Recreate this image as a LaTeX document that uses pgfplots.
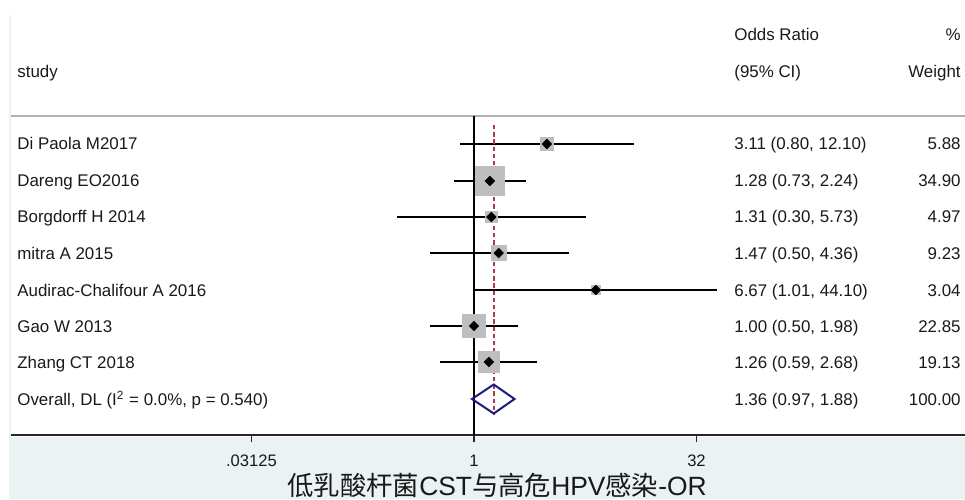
\documentclass[border=0pt]{standalone}
\usepackage{fontspec}
\setmainfont{Liberation Sans}
\newfontfamily\cjk{Noto Sans CJK SC}
\usepackage{pgfplots}
\pgfplotsset{compat=1.18}
\usepackage{pgfplotstable}
\definecolor{bgblue}{RGB}{234,242,243}
\definecolor{sqgray}{RGB}{190,190,190}
\definecolor{dianavy}{RGB}{28,28,128}
\definecolor{dashred}{RGB}{170,60,75}
\definecolor{txt}{RGB}{25,25,25}
% columns: odds ratio, lower, upper, weight, row position
\pgfplotstableread{
or lo hi w y
3.11 0.80 12.10 5.88 291
1.28 0.73 2.24 34.90 254
1.31 0.30 5.73 4.97 218
1.47 0.50 4.36 9.23 182
6.67 1.01 44.10 3.04 145
1.00 0.50 1.98 22.85 109
1.26 0.59 2.68 19.13 73
}\studies
\begin{document}
\begin{tikzpicture}
\useasboundingbox (-5.5pt,-32pt) rectangle (477pt,217.5pt);
\begin{scope}[x=0.5pt,y=-0.5pt,shift={(-5.5pt,217.5pt)}]
 \fill[bgblue] (9,437) rectangle (965,499);
 \fill[bgblue] (9,15) rectangle (11,437);
 \draw[black!30, line width=0.7pt] (11,116) -- (965,116);
\end{scope}
\begin{axis}[
 scale only axis, width=477pt, height=217.5pt,
 at={(0pt,0pt)}, anchor=south west,
 xmode=log, log basis x=2,
 xmin=0.0007378, xmax=2096.4, ymin=0, ymax=435,
 axis x line*=bottom, axis y line=none,
 x axis line style={-, line width=1pt, draw=black!85},
 xtick={0.03125,1,32}, xticklabels={.03125,1,32},
 xminorticks=false, ytick=\empty,
 tick align=outside, major tick length=3.5pt,
 xtick style={black!85, line width=0.6pt},
 xticklabel style={font=\fontsize{8.3}{10}\selectfont, text=txt, yshift=-3pt},
 /pgf/number format/assume math mode=true,
 clip=false,
]
% weight boxes
\addplot[only marks, mark=square*, color=sqgray,
 scatter, scatter/use mapped color={draw=sqgray,fill=sqgray},
 visualization depends on={\thisrow{w} \as \wt},
 scatter/@pre marker code/.append style={/tikz/mark size={(4.6*sqrt(\wt)+1.5)/4}}]
 table[x=or,y=y]{\studies};
% confidence intervals
\addplot[black, line width=1pt] coordinates {(0.80,291) (12.10,291)};
\addplot[black, line width=1pt] coordinates {(0.73,254) (2.24,254)};
\addplot[black, line width=1pt] coordinates {(0.30,218) (5.73,218)};
\addplot[black, line width=1pt] coordinates {(0.50,182) (4.36,182)};
\addplot[black, line width=1pt] coordinates {(1.01,145) (44.10,145)};
\addplot[black, line width=1pt] coordinates {(0.50,109) (1.98,109)};
\addplot[black, line width=1pt] coordinates {(0.59,73) (2.68,73)};
% null line
\addplot[black, line width=0.75pt] coordinates {(1,319) (1,0)};
% pooled estimate line
\addplot[dashred, line width=0.8pt, dash pattern=on 2.2pt off 1.4pt] coordinates {(1.36,310) (1.36,20)};
% point estimates
\addplot[only marks, mark=square*, mark size=1.65pt, mark options={rotate=45, draw=black, fill=black}]
 table[x=or,y=y]{\studies};
% overall diamond
\addplot[dianavy, line width=1pt, line join=miter] coordinates {(0.97,36) (1.36,50.5) (1.88,36) (1.36,21.5) (0.97,36) (1.36,50.5)};
\end{axis}
\begin{scope}[x=0.5pt,y=-0.5pt,shift={(-5.5pt,217.5pt)},
  every node/.style={inner sep=0pt, font=\fontsize{8.45}{10}\selectfont, text=txt}]
 \node[anchor=base west] at (734,41) {Odds Ratio};
 \node[anchor=base east] at (961,41) {\%};
 \node[anchor=base west] at (17,78) {study};
 \node[anchor=base west] at (734,78) {(95\% CI)};
 \node[anchor=base east] at (961,78) {Weight};
 \node[anchor=base west] at (17,150) {Di Paola M2017};
 \node[anchor=base west] at (17,187) {Dareng EO2016};
 \node[anchor=base west] at (17,223) {Borgdorff H 2014};
 \node[anchor=base west] at (17,259) {mitra A 2015};
 \node[anchor=base west] at (17,296) {Audirac-Chalifour A 2016};
 \node[anchor=base west] at (17,332) {Gao W 2013};
 \node[anchor=base west] at (17,368) {Zhang CT 2018};
 \node[anchor=base west] at (17,405) {Overall, DL (I\textsuperscript{2} = 0.0\%, p = 0.540)};
 \node[anchor=base west] at (734,150) {3.11 (0.80, 12.10)};
 \node[anchor=base west] at (734,187) {1.28 (0.73, 2.24)};
 \node[anchor=base west] at (734,223) {1.31 (0.30, 5.73)};
 \node[anchor=base west] at (734,259) {1.47 (0.50, 4.36)};
 \node[anchor=base west] at (734,296) {6.67 (1.01, 44.10)};
 \node[anchor=base west] at (734,332) {1.00 (0.50, 1.98)};
 \node[anchor=base west] at (734,368) {1.26 (0.59, 2.68)};
 \node[anchor=base west] at (734,405) {1.36 (0.97, 1.88)};
 \node[anchor=base east] at (961,150) {5.88};
 \node[anchor=base east] at (961,187) {34.90};
 \node[anchor=base east] at (961,223) {4.97};
 \node[anchor=base east] at (961,259) {9.23};
 \node[anchor=base east] at (961,296) {3.04};
 \node[anchor=base east] at (961,332) {22.85};
 \node[anchor=base east] at (961,368) {19.13};
 \node[anchor=base east] at (961,405) {100.00};
 \node[anchor=center, font=\fontsize{13.2}{15}\selectfont] at (497,485) {{\cjk 低乳酸杆菌}CST{\cjk 与高危}HPV{\cjk 感染}-OR};
\end{scope}
\end{tikzpicture}
\end{document}
